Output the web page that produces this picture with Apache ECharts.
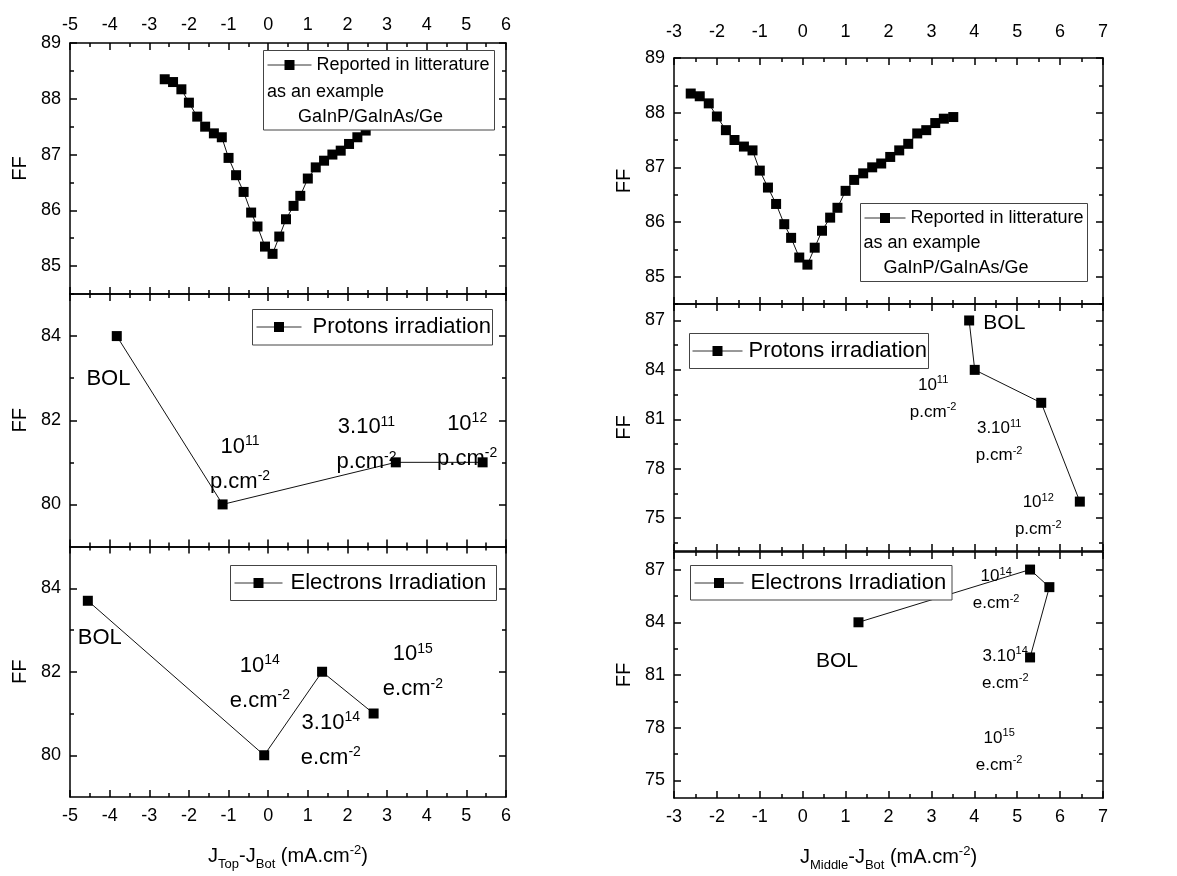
<!DOCTYPE html>
<html><head><meta charset="utf-8">
<script src="https://cdn.jsdelivr.net/npm/echarts@6/dist/echarts.min.js"></script>
<style>html,body{margin:0;padding:0;background:#fff}#c{width:1177px;height:876px}</style>
</head><body><div id="c"></div>
<script>
// ---------------- DATA ----------------
const litX  = [-2.61,-2.40,-2.19,-2.00,-1.79,-1.59,-1.37,-1.17,-1.00,-0.81,-0.62,-0.43,-0.27,-0.08,0.11,0.28,0.45,0.64,0.81,1.00,1.20,1.41,1.62,1.83,2.04,2.25,2.46,2.67,2.88,3.09,3.29,3.51];
const litFF = [88.35,88.30,88.17,87.93,87.68,87.50,87.38,87.31,86.94,86.63,86.33,85.96,85.71,85.35,85.22,85.53,85.84,86.08,86.26,86.57,86.77,86.89,87.00,87.07,87.19,87.31,87.43,87.62,87.68,87.81,87.89,87.92];

const protTopX  = [-3.82,-1.15,3.22,5.41];
const protTopFF = [84,80,81,81];
const elecTopX  = [-4.55,-0.10,1.36,2.66];
const elecTopFF = [83.7,80,82,81];

const protMidX  = [3.88,4.01,5.56,6.46];
const protMidFF = [87,84,82,76];
const elecMidX  = [1.30,5.30,5.75,5.30];
const elecMidFF = [84,87,86,82];

const protonLabels   = ['BOL','{b|10}{s|11}\n{b|p.cm}{s|-2}','{b|3.10}{s|11}\n{b|p.cm}{s|-2}','{b|10}{s|12}\n{b|p.cm}{s|-2}'];
const electronLabels = ['BOL','{b|10}{s|14}\n{b|e.cm}{s|-2}','{b|3.10}{s|14}\n{b|e.cm}{s|-2}','{b|10}{s|15}\n{b|e.cm}{s|-2}'];

// annotation anchors (data units)
const annProtTop = [[-4.03,82.99],[-0.71,80.95],[2.48,81.42],[5.02,81.50]];
const annElecTop = [[-4.25,82.81],[-0.21,81.72],[1.58,80.35],[3.65,82.00]];
const annProtMid = [[4.70,86.84],[3.04,82.27],[4.58,79.62],[5.49,75.11]];
const annElecMid = [[0.80,81.78],[4.51,85.83],[4.72,81.31],[4.58,76.65]];

const yMajLit = [85,86,87,88,89];      const yMinLit = [84.5,85.5,86.5,87.5,88.5];
const yMajIrrL = [80,82,84];           const yMinIrrL = [81,83];
const yMajIrrR = [75,78,81,84,87];     const yMinProtR = [73.5,76.5,79.5,82.5,85.5]; const yMinElecR = [76.5,79.5,82.5,85.5];

const legLit = 'Reported in litterature';
const legProt = 'Protons irradiation';
const legElec = 'Electrons Irradiation';
const legLine2 = 'as an example';
const legLine3 = 'GaInP/GaInAs/Ge';
const titleL = '{j|J}{sub|Top}{j|-J}{sub|Bot}{j| (mA.cm}{sup|-2}{j|)}';
const titleR = '{j|J}{sub|Middle}{j|-J}{sub|Bot}{j| (mA.cm}{sup|-2}{j|)}';

// ---------------- LAYOUT ----------------
const FONT = '"Liberation Sans", Arial, Helvetica, sans-serif';
const panels = [
  {g:{left:70, top:43,  width:436, height:251}, x:[-5,6], y:[84.5,89], maj:yMajLit, min:yMinLit, topLab:true, topMargin:9},
  {g:{left:70, top:294, width:436, height:252.5}, x:[-5,6], y:[79,85], maj:yMajIrrL, min:yMinIrrL},
  {g:{left:70, top:546.5, width:436, height:250.5}, x:[-5,6], y:[79,85], maj:yMajIrrL, min:yMinIrrL, botLab:true, title:titleL},
  {g:{left:674, top:58, width:429, height:246}, x:[-3,7], y:[84.5,89], maj:yMajLit, min:yMinLit, topLab:true, topMargin:17},
  {g:{left:674, top:304, width:429, height:247}, x:[-3,7], y:[73,88], maj:yMajIrrR, min:yMinProtR},
  {g:{left:674, top:552, width:429, height:246}, x:[-3,7], y:[74,88], maj:yMajIrrR, min:yMinElecR, botLab:true, title:titleR}
];

const grids=[], xAxes=[], yAxes=[];
const lineS = {color:'#000', width:1.5};
const labS = {color:'#000', fontSize:18, fontFamily:FONT};
const mainIdx = [];
panels.forEach((p,i)=>{
  const gMain = grids.length; grids.push(Object.assign({containLabel:false}, p.g));
  const gMin = grids.length; grids.push(Object.assign({containLabel:false}, p.g));
  const xb = xAxes.length;
  const xBase = {type:'value', min:p.x[0], max:p.x[1], interval:1,
    axisLine:{show:true,onZero:false,lineStyle:lineS},
    axisTick:{show:true,inside:true,length:7,lineStyle:lineS},
    minorTick:{show:true,splitNumber:2,length:4,lineStyle:lineS},
    splitLine:{show:false}, minorSplitLine:{show:false}};
  xAxes.push(Object.assign({}, xBase, {gridIndex:gMain, position:'bottom',
    axisLabel:Object.assign({show:!!p.botLab, margin:10}, labS),
    name: p.title||'', nameLocation:'middle', nameGap:44,
    nameTextStyle:{color:'#000', fontFamily:FONT, rich:{
      j:{fontSize:20, lineHeight:30, fontFamily:FONT, color:'#000'},
      sub:{fontSize:13, verticalAlign:'bottom', fontFamily:FONT, color:'#000'},
      sup:{fontSize:13, verticalAlign:'top', padding:[3,0,0,0], fontFamily:FONT, color:'#000'}}}}));
  xAxes.push(Object.assign({}, xBase, {gridIndex:gMain, position:'top',
    axisLabel:Object.assign({show:!!p.topLab, margin:p.topMargin||8}, labS)}));
  xAxes.push({type:'value', gridIndex:gMin, min:p.x[0], max:p.x[1], show:false,
    axisLine:{show:false,onZero:false}});
  const yb = yAxes.length;
  const yBase = {type:'value', min:p.y[0], max:p.y[1],
    axisLine:{show:true,onZero:false,lineStyle:lineS},
    splitLine:{show:false}};
  yAxes.push(Object.assign({}, yBase, {gridIndex:gMain, position:'left',
    axisTick:{show:true,inside:true,length:7,lineStyle:lineS,customValues:p.maj},
    axisLabel:Object.assign({show:true,margin:9,customValues:p.maj}, labS),
    name:'FF', nameLocation:'middle', nameRotate:90, nameGap:40,
    nameTextStyle:{color:'#000', fontSize:20, fontFamily:FONT}}));
  yAxes.push(Object.assign({}, yBase, {gridIndex:gMain, position:'right',
    axisTick:{show:true,inside:true,length:7,lineStyle:lineS,customValues:p.maj},
    axisLabel:{show:false}}));
  yAxes.push({type:'value', gridIndex:gMin, position:'left', min:p.y[0], max:p.y[1],
    axisLine:{show:false,onZero:false}, splitLine:{show:false}, axisLabel:{show:false},
    axisTick:{show:true,inside:true,length:4,lineStyle:lineS,customValues:p.min}});
  yAxes.push({type:'value', gridIndex:gMin, position:'right', min:p.y[0], max:p.y[1],
    axisLine:{show:false,onZero:false}, splitLine:{show:false}, axisLabel:{show:false},
    axisTick:{show:true,inside:true,length:4,lineStyle:lineS,customValues:p.min}});
  mainIdx.push({x:xb, y:yb});
});

const zip = (a,b)=>a.map((v,i)=>[v,b[i]]);
const richL = {b:{fontSize:22, lineHeight:35, fontFamily:FONT, color:'#000'},
               s:{fontSize:14, verticalAlign:'top', padding:[5,0,0,0], fontFamily:FONT, color:'#000'}};
const richR = {b:{fontSize:17, lineHeight:27, fontFamily:FONT, color:'#000'},
               s:{fontSize:11, verticalAlign:'top', padding:[3,0,0,0], fontFamily:FONT, color:'#000'}};
function ann(anchors, labels, big, rich, bolSize){
  return {symbol:'rect', symbolSize:1, itemStyle:{color:'rgba(0,0,0,0)'}, silent:true, animation:false,
    label:{show:true, position:'inside', color:'#000', fontFamily:FONT, fontSize:big, rich:rich},
    data: anchors.map((a,i)=>({coord:a, label:{formatter:labels[i], fontSize: i===0?bolSize:big}}))};
}
function ser(name, i, xs, ys, mp){
  return {type:'line', name, xAxisIndex:mainIdx[i].x, yAxisIndex:mainIdx[i].y, data:zip(xs,ys),
    symbol:'rect', symbolSize:10, itemStyle:{color:'#000'}, lineStyle:{color:'#111', width:1},
    z:2, animation:false, markPoint:mp};
}
const series = [
  ser(legLit, 0, litX, litFF),
  ser(legProt, 1, protTopX, protTopFF, ann(annProtTop, protonLabels, 22, richL, 22)),
  ser(legElec, 2, elecTopX, elecTopFF, ann(annElecTop, electronLabels, 22, richL, 22)),
  ser(legLit, 3, litX, litFF),
  ser(legProt, 4, protMidX, protMidFF, ann(annProtMid, protonLabels, 17, richR, 21)),
  ser(legElec, 5, elecMidX, elecMidFF, ann(annElecMid, electronLabels, 17, richR, 21))
];

function leg(name, left, cy, fs, iw, gap){
  const lh = fs+4;
  return {data:[name], left:left, top:cy-lh/2, padding:0, itemWidth:iw, itemHeight:12.5, selectedMode:false, z:10,
    lineStyle:{color:'#333', width:1},
    textStyle:{fontSize:fs, fontFamily:FONT, color:'#000', lineHeight:lh, padding:[0,0,0,gap]}};
}
const legends = [
  leg(legLit, 267, 65, 18, 44, 0),
  leg(legProt, 256, 327, 22, 45, 6),
  leg(legElec, 234, 583, 22, 48, 3),
  leg(legLit, 864, 218, 18, 41, 0),
  leg(legProt, 692, 351, 22, 50, 1),
  leg(legElec, 694, 583, 22, 49, 2)
];

const graphics = [];
function box(x,y,w,h){ graphics.push({type:'rect', z:3, shape:{x,y,width:w,height:h}, style:{fill:'#fff', stroke:'#444', lineWidth:1}}); }
function txt(x,y,t){ graphics.push({type:'text', z:5, x, y, style:{text:t, fontSize:18, fontFamily:FONT, fill:'#000', verticalAlign:'middle', align:'left'}}); }
box(263.5,50.5,231,79.5); txt(267,92,legLine2); txt(298,117,legLine3);
box(252.5,309.5,240,35.5);
box(230.5,565.5,266,35);
box(860.5,203.5,227,78); txt(863.5,243.5,legLine2); txt(883.5,268.5,legLine3);
box(689.5,333.5,239,35);
box(690.5,565.5,261.5,34.5);

const chart = echarts.init(document.getElementById('c'), null, {renderer:'canvas'});
chart.setOption({
  animation:false, backgroundColor:'#fff',
  grid:grids, xAxis:xAxes, yAxis:yAxes, series, legend:legends, graphic:graphics
});
</script></body></html>
